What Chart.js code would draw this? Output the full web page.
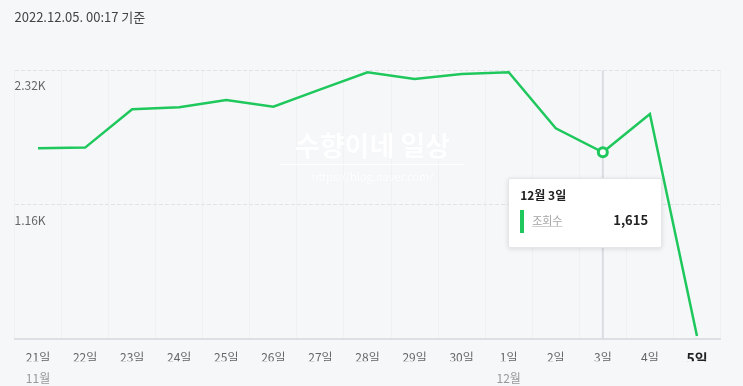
<!DOCTYPE html>
<html><head><meta charset="utf-8">
<script src="https://cdn.jsdelivr.net/npm/chart.js@4"></script>
<style>
html,body{margin:0;padding:0;background:#f6f7f9;overflow:hidden;}
#wrap{position:relative;width:743px;height:386px;}
canvas{display:block;}
.F{font-family:'Noto Sans CJK KR','Noto Sans',sans-serif;}
#wm{position:absolute;left:280px;top:129px;width:185px;text-align:center;color:#ffffff;text-shadow:0 0 1px rgba(0,0,0,0.05);pointer-events:none;}
#wm .a{font-size:27px;font-weight:bold;line-height:32px;border-bottom:1px solid #fff;padding-bottom:3px;}
#wm .b{font-size:11px;line-height:16px;margin-top:3px;}
#tip{position:absolute;box-sizing:border-box;width:154px;height:70px;background:#fff;border:1px solid #e4e6e9;border-radius:2px;box-shadow:0 1px 5px rgba(0,0,0,0.12);}
#tip .t{position:absolute;left:11px;top:9px;font-size:12px;line-height:14px;font-weight:bold;color:#222;}
#tip .bar{position:absolute;left:11px;top:31px;width:4px;height:23px;background:#1fc85c;}
#tip .lbl{position:absolute;left:23px;top:34px;font-size:11px;line-height:14px;color:#a3a3a3;text-decoration:underline;text-decoration-color:#cfcfcf;}
#tip .val{position:absolute;right:13px;top:33px;font-size:13px;line-height:16px;font-weight:bold;color:#222;}
</style></head>
<body>
<div id="wrap">
<canvas id="c" width="743" height="386"></canvas>
<div id="wm" class="F"><div class="a">수향이네 일상</div><div class="b">https://blog.naver.com/</div></div>
<div id="tip" class="F"><div class="t"></div><span class="bar"></span><span class="lbl"></span><span class="val"></span></div>
</div>
<script>
const stampText = '2022.12.05. 00:17 기준';
const seriesName = '조회수';
const dayLabels = ['21일','22일','23일','24일','25일','26일','27일','28일','29일','30일','1일','2일','3일','4일','5일'];
const monthLabels = ['11월','','','','','','','','','','12월','','','',''];
const views = [1650,1655,1987,2004,2067,2009,2158,2306,2248,2291,2306,1822,1615,1946,28];
const yTicks = [0,1160,2320];
const activeIndex = 12;
const activeMonth = '12월';

const F = "'Noto Sans CJK KR','Noto Sans',sans-serif";
const GREEN = '#1fc85c';
const lastIdx = dayLabels.length - 1;

const hoverLine = {
  id:'hoverLine',
  beforeDatasetsDraw(chart){
    const {ctx, chartArea, scales} = chart;
    const x = scales.x.getPixelForValue(activeIndex);
    ctx.save();
    ctx.strokeStyle = '#d9dde2';
    ctx.lineWidth = 2;
    ctx.beginPath();
    ctx.moveTo(x, chartArea.top);
    ctx.lineTo(x, chartArea.bottom);
    ctx.stroke();
    ctx.restore();
  }
};

const chart = new Chart(document.getElementById('c'), {
  type:'line',
  data:{
    labels: dayLabels,
    datasets:[{
      label: seriesName,
      data: views,
      borderColor: GREEN,
      borderWidth: 2.5,
      tension: 0,
      fill: false,
      pointRadius: views.map((v,i)=> i===activeIndex ? 4.5 : 0),
      pointBackgroundColor: '#ffffff',
      pointBorderColor: GREEN,
      pointBorderWidth: 3,
      xAxisID:'x', yAxisID:'y'
    }]
  },
  options:{
    responsive:false,
    animation:false,
    events:[],
    layout:{padding:{left:14.5,right:22.5,top:0,bottom:0}},
    plugins:{
      legend:{display:false},
      tooltip:{enabled:false},
      title:{display:true,text:stampText,align:'start',color:'#444',
        font:{family:F,size:13,weight:'normal'},padding:{top:9,bottom:46}}
    },
    scales:{
      x:{
        type:'category', offset:true, weight:0,
        grid:{offset:true,color:'#eff1f3',drawTicks:false},
        border:{display:true,color:'#dcdfe3',width:2},
        ticks:{padding:11,autoSkip:false,maxRotation:0,
          color:c=> c.index===lastIdx ? '#222' : '#666',
          font:c=> c.index===lastIdx ? {family:F,size:14,weight:'bold'} : {family:F,size:12}},
        afterFit:s=>{ s.height = 22; }
      },
      x2:{
        type:'category', offset:true, position:'bottom', weight:1,
        grid:{display:false,drawTicks:false},
        border:{display:false},
        ticks:{padding:9.5,autoSkip:false,maxRotation:0,color:'#999',
          font:{family:F,size:12},
          callback:(v,i)=> monthLabels[i]},
        afterFit:s=>{ s.height = 24.7; }
      },
      y:{
        min:0, max:2320,
        afterBuildTicks:axis=>{ axis.ticks = yTicks.map(v=>({value:v})); },
        grid:{drawTicks:false,color:c=> (c.tick && c.tick.value===0) ? 'rgba(0,0,0,0)' : '#dfe2e6'},
        border:{display:false,dash:[4,2]},
        ticks:{mirror:true,padding:0,labelOffset:15,color:'#666',
          font:{family:F,size:12},
          callback:v=> v===0 ? '' : (v/1000).toFixed(2)+'K'}
      }
    }
  },
  plugins:[hoverLine]
});

// tooltip box placed from the library's scales
const px = chart.scales.x.getPixelForValue(activeIndex);
const py = chart.scales.y.getPixelForValue(views[activeIndex]);
const tip = document.getElementById('tip');
tip.querySelector('.t').textContent = activeMonth + ' ' + dayLabels[activeIndex];
tip.querySelector('.lbl').textContent = seriesName;
tip.querySelector('.val').textContent = views[activeIndex].toLocaleString('en-US');
tip.style.left = (px - 94.7) + 'px';
tip.style.top = (py + 26) + 'px';
</script>
</body></html>
